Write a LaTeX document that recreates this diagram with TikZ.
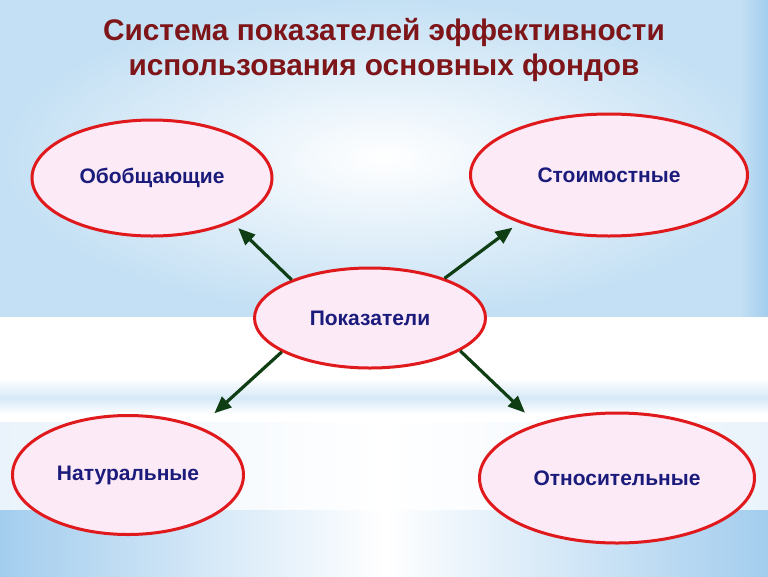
\documentclass[tikz,border=0pt]{standalone}
\usepackage{fontspec}
\setmainfont{Liberation Sans}
\usetikzlibrary{shapes.geometric,arrows.meta}
\definecolor{titlered}{HTML}{7E1518}
\definecolor{textblue}{HTML}{1B1B7C}
\definecolor{ovalred}{HTML}{E0191C}
\definecolor{ovalpink}{HTML}{FCEAF6}
\definecolor{arrowgreen}{HTML}{0F3D14}
\definecolor{bgblue}{HTML}{C4E0F4}
\definecolor{bgdeep}{HTML}{A3CDEE}
\definecolor{bgpale}{HTML}{D6E9F7}
\definecolor{bgfaint}{HTML}{EAF3FB}
\tikzset{
  oval/.style={draw=ovalred, line width=3pt, fill=ovalpink, ellipse, inner sep=0pt,
    text=textblue, font=\fontsize{21}{24}\selectfont\bfseries},
  link/.style={draw=arrowgreen, line width=3.2pt, -{Triangle[length=17pt,width=14pt]}}
}
\begin{document}
\begin{tikzpicture}[x=1pt,y=-1pt]
% background
\useasboundingbox (0,0) rectangle (768,576);
\fill[white] (0,0) rectangle (768,576);
\shade[inner color=white, outer color=bgblue] (0,0) rectangle (768,316);
\shade[left color=bgblue, right color=bgdeep] (740,0) rectangle (768,316);
\shade[top color=white, bottom color=bgpale] (0,378) rectangle (768,398);
\shade[top color=bgpale, bottom color=white] (0,398) rectangle (768,414);
\shade[left color=bgfaint, right color=bgfaint, middle color=white] (0,422) rectangle (768,510);
\shade[left color=bgdeep, right color=bgdeep, middle color=white] (0,510) rectangle (768,576);

% title
\node[text=titlered, align=center, font=\fontsize{29.8}{35}\selectfont\bfseries] (title) at (384,50)
  {Система показателей эффективности\\использования основных фондов};

\node[oval, minimum width=240pt, minimum height=116pt] (obob) at (152,178) {Обобщающие};
\node[oval, minimum width=277pt, minimum height=122pt] (stoim) at (609,175) {Стоимостные};
\node[oval, minimum width=231pt, minimum height=100pt] (pokaz) at (370,318) {Показатели};
\node[oval, minimum width=231pt, minimum height=119pt] (natur) at (128,475) {Натуральные};
\node[oval, minimum width=275pt, minimum height=130pt] (otnos) at (617,478) {Относительные};

\path[link, shorten >=8pt] (pokaz.154.6) -- (obob.-29.5);
\path[link, shorten >=8pt] (pokaz.28.7) -- (stoim.208);
\path[link, shorten >=20pt] (pokaz.201.9) -- (natur.34.9);
\path[link, shorten >=16pt] (pokaz.-20.7) -- (otnos.146);
\end{tikzpicture}
\end{document}
